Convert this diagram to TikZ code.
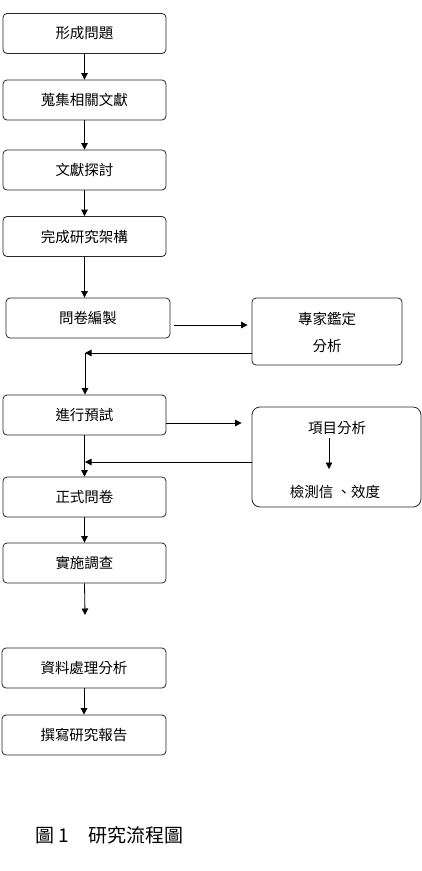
\documentclass[tikz,border=0pt]{standalone}
\usepackage{fontspec}
\setmainfont{Noto Sans CJK TC}
\usetikzlibrary{arrows.meta,calc}
\begin{document}
\begin{tikzpicture}[x=1pt,y=-1pt,
  box/.style={draw=black!85,line width=0.8pt,rounded corners=4pt,minimum height=40pt,inner sep=0pt,font=\fontsize{14.5}{16}\selectfont},
  arr/.style={draw=black,line width=0.8pt,-{Triangle[length=6.5pt,width=6.5pt]}},
  lbl/.style={inner sep=0pt,font=\fontsize{14.5}{16}\selectfont}]
\useasboundingbox (0,0) rectangle (422,871);
\node[box,minimum width=163pt] (b1) at (84.5,33.5) {形成問題};
\node[box,minimum width=163pt] (b2) at (84.5,100) {蒐集相關文獻};
\node[box,minimum width=163pt] (b3) at (84.5,170) {文獻探討};
\node[box,minimum width=163pt] (b4) at (84.5,236.5) {完成研究架構};
\node[box,minimum width=164pt] (b5) at (88,318) {問卷編製};
\node[box,minimum width=150pt,minimum height=67pt] (ex) at (327,331.5) {};
\node[lbl] (ex1) at (327,319) {專家鑑定};
\node[lbl] (ex2) at (327,346) {分析};
\node[box,minimum width=163pt] (b6) at (84.5,415) {進行預試};
\node[box,minimum width=169pt,minimum height=100pt,rounded corners=8pt] (it) at (336.5,457) {};
\node[lbl] (it1) at (337,428) {項目分析};
\node[lbl] (it2) at (335,492) {檢測信 、效度};
\node[box,minimum width=163pt] (b7) at (84.5,497) {正式問卷};
\node[box,minimum width=163pt] (b8) at (84.5,563) {實施調查};
\node[box,minimum width=164pt] (b9) at (84,668) {資料處理分析};
\node[box,minimum width=164pt] (b10) at (84,735) {撰寫研究報告};
\node[anchor=west,inner sep=0pt,font=\fontsize{19}{21}\selectfont] (cap) at (35,835) {圖 1\hspace{20pt}研究流程圖};
\coordinate (j1) at (85,353);
\coordinate (j2) at (85,462);
\coordinate (j3) at (85,615);
\coordinate (i1) at (329,438);
\coordinate (i2) at (329,469);
\draw[arr] (b1.south) -- (b2.north);
\draw[arr] (b2.south) -- (b3.north);
\draw[arr] (b3.south) -- (b4.north);
\draw[arr] (b4.south) -- (b4.south |- b5.north);
\draw[arr] ([xshift=4pt,yshift=-7pt]b5.east) -- ([xshift=-4pt,yshift=-7pt]b5.east -| ex.west);
\draw[arr] ([yshift=-21.5pt]ex.west) -- (j1);
\draw[arr] (j1) -- (j1 |- b6.north);
\draw[arr] ([yshift=-8pt]b6.east) -- ([xshift=-10pt,yshift=-8pt]b6.east -| it.west);
\draw[arr] ([yshift=-5pt]it.west) -- (j2);
\draw[arr] (b6.south) -- (b7.north);
\draw[arr] (b7.south) -- (b8.north);
\draw[arr] (i1) -- (i2);
\draw[arr] (b8.south) -- (j3);
\draw[arr] (b9.south) -- (b9.south |- b10.north);
\end{tikzpicture}
\end{document}
